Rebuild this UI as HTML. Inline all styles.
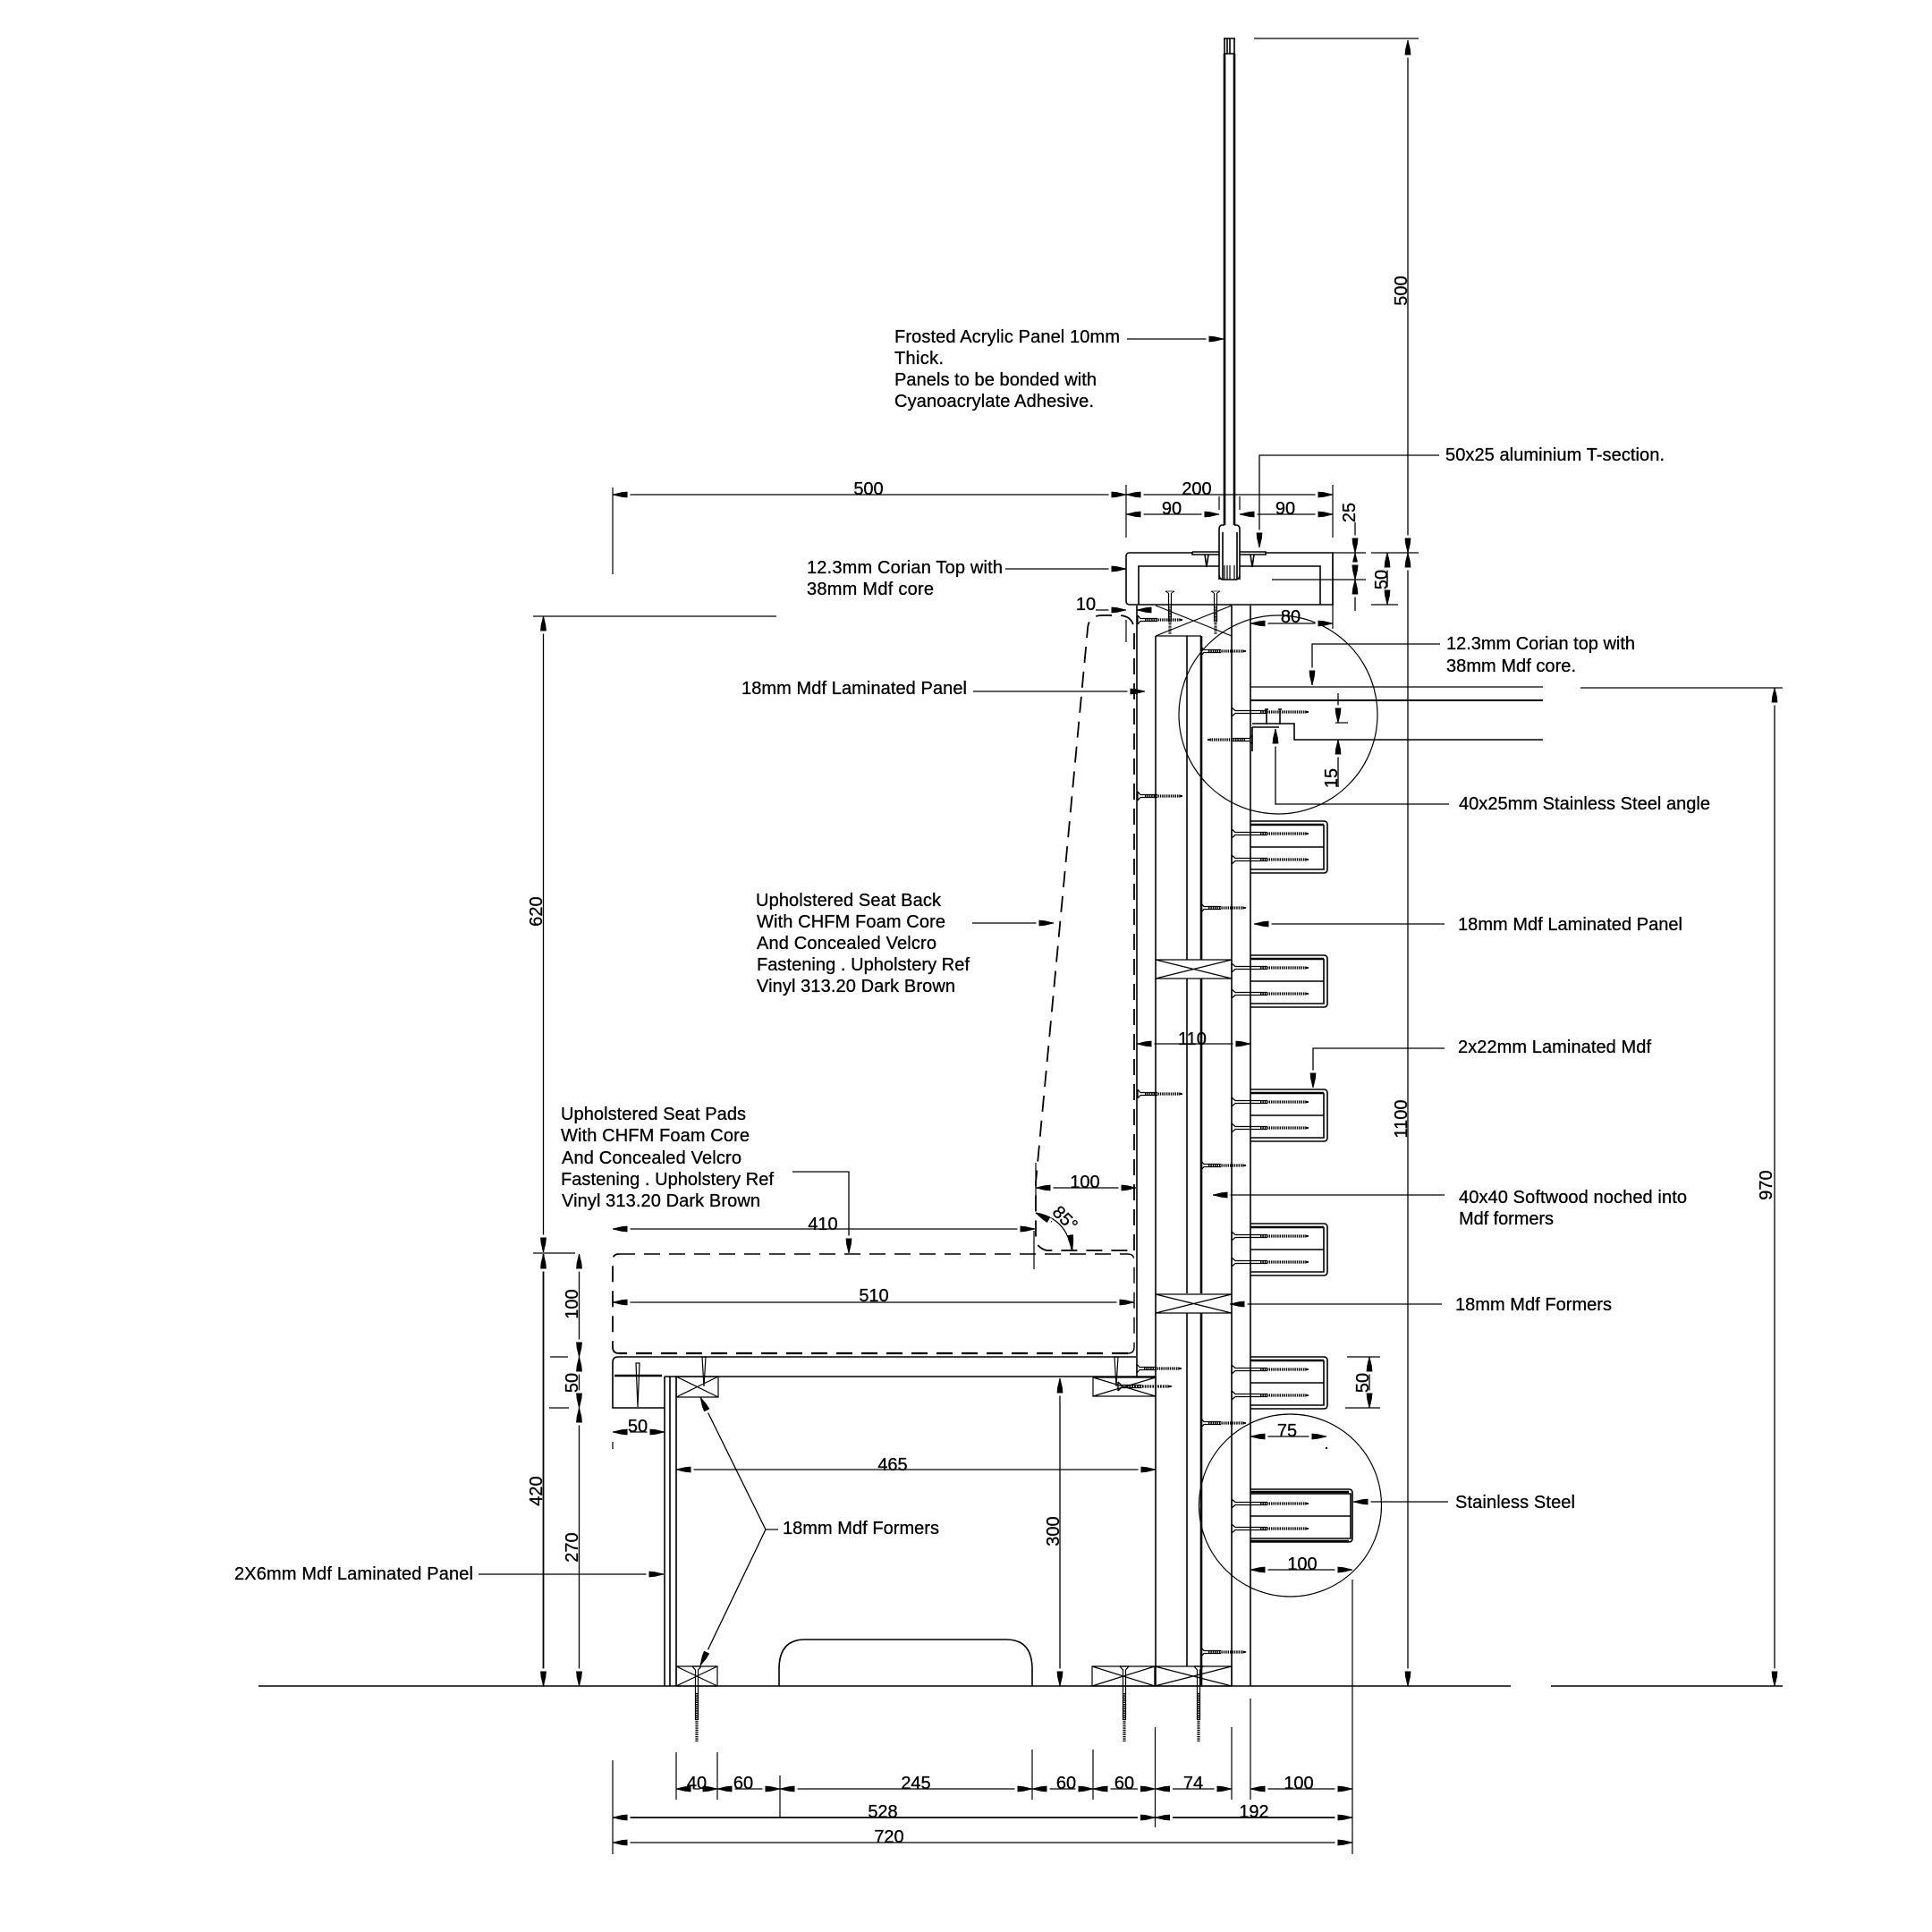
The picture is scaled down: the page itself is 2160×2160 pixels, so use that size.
<!DOCTYPE html>
<html><head><meta charset="utf-8"><style>
html,body{margin:0;padding:0;background:#fff}
svg{display:block}
text{font-family:"Liberation Sans",sans-serif;font-size:20px;fill:#000;stroke:#000;stroke-width:.3}
.m{text-anchor:middle}
.l{fill:none;stroke:#000;stroke-width:1.6}
.t{fill:none;stroke:#000;stroke-width:1.2}
.h{fill:none;stroke:#000;stroke-width:2.6}
.d{fill:none;stroke:#000;stroke-width:1.3;marker-start:url(#a);marker-end:url(#a)}
.e{fill:none;stroke:#000;stroke-width:1.3;marker-end:url(#a)}
.o{fill:none;stroke:#000;stroke-width:1.8;stroke-dasharray:18 10}
</style></head><body>
<svg width="2160" height="2160" viewBox="0 0 2160 2160" xmlns="http://www.w3.org/2000/svg">
<defs>
<marker id="a" markerUnits="userSpaceOnUse" markerWidth="24" markerHeight="10" refX="22" refY="5" orient="auto-start-reverse"><rect x="2.5" y="2" width="3" height="6" fill="#fff"/><path d="M5.5 1.6L12 2.2L22 4.6V5.4L12 7.8L5.5 8.4Z" fill="#000"/></marker>
<g id="sw"><path class="t" d="M0 -5V5M0 -5L4 -1.5H40M0 5L4 1.5H40"/><path d="M32 0H82" stroke="#000" stroke-width="3.2" stroke-dasharray="1.4 1" fill="none"/><path class="t" d="M82 -1L86 0L82 1"/></g>
<g id="ss"><path class="t" d="M0 -5V5M0 -5L3 -1.5H22M0 5L3 1.5H22"/><path d="M8 0H46" stroke="#000" stroke-width="3.2" stroke-dasharray="1.4 1" fill="none"/><path class="t" d="M46 -1L50 0L46 1"/></g>
<g id="sv"><path class="t" d="M-5 0H5M-5 0L-1.5 4V60M5 0L1.5 4V60"/><path d="M0 30V84" stroke="#000" stroke-width="3.2" stroke-dasharray="1.4 1" fill="none"/></g>
<g id="br"><path class="l" d="M1398 0H1480Q1484 0 1484 4V54Q1484 58 1480 58H1398"/><path class="h" d="M1398 4H1480"/><path class="l" d="M1398 54H1480V4M1398 29H1480"/><use href="#sw" x="1377" y="14"/><use href="#sw" x="1377" y="43"/></g>
<g id="xb"><path class="t" d="M0 0L85 21M85 0L0 21M0 0H85M0 21H85"/></g>
</defs>

<!-- acrylic + T section -->
<path class="h" d="M1369 60V587M1380 60V587"/>
<path class="l" d="M1368 43H1381M1369 43V60H1380V43M1372 43V60M1375 43V60"/>
<path class="l" d="M1363 648V592Q1363 587 1367 587H1369M1386 648V592Q1386 587 1382 587H1380M1363 642Q1363 648 1368 648H1381Q1386 648 1386 642M1367 648V595M1383 648V595"/>
<path class="t" d="M1369 632V648M1380 632V648M1372 632V648M1375 632V648"/>
<path class="l" d="M1333 617V620H1363M1333 617H1363M1386 617H1415V620H1386"/>
<path class="l" d="M1347 620L1349 634L1351 620M1398 620L1400 634L1402 620"/>

<!-- corian top -->
<path class="l" d="M1333 618H1263Q1259 618 1259 622V672Q1259 676 1263 676H1490V618H1415"/>
<path class="l" d="M1349 633H1273V676M1476 676V633H1386M1363 633H1349"/>

<!-- top block -->
<path class="t" d="M1292 677L1377 711M1377 677L1292 711M1292 711H1343"/>
<use href="#sv" transform="translate(1308,661) scale(1,.57)"/>
<use href="#sv" transform="translate(1359,661) scale(1,.57)"/>
<use href="#ss" x="1272" y="693"/>

<!-- vertical wall -->
<path class="l" d="M1271 677V1517"/>
<path class="l" d="M1292 711V1885"/>
<path class="l" d="M1327 711V1073M1327 1094V1446M1327 1468V1863"/>
<path class="h" d="M1343 711V1073M1343 1094V1446M1343 1468V1885"/>
<path class="l" d="M1377 677V1885"/>
<path class="l" d="M1398 677V1885"/>
<use href="#xb" transform="translate(1292,1073)"/>
<use href="#xb" transform="translate(1292,1447)"/>

<!-- brackets -->
<use href="#br" y="918"/>
<use href="#br" y="1068"/>
<use href="#br" y="1218"/>
<use href="#br" y="1368"/>
<use href="#br" y="1517"/>
<path class="l" d="M1398 1665H1508Q1512 1665 1512 1669V1720Q1512 1724 1508 1724H1398"/>
<path class="h" d="M1398 1668H1508M1398 1723H1508"/>
<path class="l" d="M1398 1670H1510V1720H1398M1398 1695H1510"/>
<use href="#sw" x="1377" y="1681"/>
<use href="#sw" x="1377" y="1709"/>

<!-- short screws -->
<use href="#ss" x="1343" y="728"/>
<use href="#ss" x="1343" y="1015"/>
<use href="#ss" x="1343" y="1303"/>
<use href="#ss" x="1343" y="1591"/>
<use href="#ss" x="1343" y="1847"/>
<use href="#ss" x="1272" y="890"/>
<use href="#ss" x="1272" y="1223"/>
<use href="#sw" x="1377" y="796"/>
<use href="#ss" transform="translate(1400,827) scale(-1,1)"/>

<!-- detail lines + angle -->
<circle class="t" cx="1429" cy="799" r="111"/>
<circle class="t" cx="1442.5" cy="1683" r="102"/>
<path class="t" d="M1398 768H1725"/>
<path class="l" d="M1398 783H1725" style="stroke-width:2"/>
<path class="l" d="M1400 809H1447V827H1725M1400 813H1430M1400 813V840"/>
<path class="l" d="M1416 793V810M1431 793V810M1414 793H1418M1429 793H1433"/>

<!-- seat back upholstery -->
<path class="o" d="M1268 1398V706Q1268 688 1250 688H1232Q1217 688 1216 703L1158 1322V1387Q1160 1395 1170 1398H1268"/>
<!-- seat pad -->
<path class="o" style="stroke-width:1.4" d="M692 1402H1261Q1268 1402 1268 1409V1506Q1268 1513 1261 1513"/>
<path class="o" style="stroke-width:2.2" d="M1261 1513H692"/>
<path class="o" d="M692 1513Q685 1513 685 1506V1409Q685 1402 692 1402"/>

<!-- seat base -->
<path class="l" d="M1270 1517H691Q685 1517 685 1523V1574H743"/>
<path class="l" d="M743 1539H1292"/>
<path class="h" d="M687 1538H740"/>
<path class="l" d="M1271 1517V1539"/>
<path class="l" d="M743 1539V1885M749 1539V1885M756 1539V1885"/>
<path class="t" d="M711 1524L713 1573L715 1524ZM785 1517L787 1550L789 1517ZM1246 1517L1248 1550L1250 1517Z"/>
<path class="t" d="M756 1539H803V1562H756ZM756 1539L803 1562M803 1539L756 1562"/>
<path class="t" d="M1222 1540H1292V1561H1222ZM1222 1540L1292 1561M1292 1540L1222 1561"/>
<use href="#ss" x="1271" y="1530"/>
<use href="#ss" transform="translate(1250,1550) scale(1.2,1)"/>

<!-- floor + blocks -->
<path class="l" d="M289 1885H1689M1734 1885H1993"/>
<path class="l" d="M871 1885V1866Q871 1833 900 1833H1125Q1154 1833 1154 1866V1885"/>
<path class="t" d="M756 1863H802V1885H756ZM756 1863L802 1885M802 1863L756 1885"/>
<path class="t" d="M1221 1863H1291V1885H1221ZM1221 1863L1291 1885M1291 1863L1221 1885"/>
<path class="t" d="M1291 1863H1377V1885H1291ZM1291 1863L1377 1885M1377 1863L1291 1885"/>
<use href="#sv" x="779" y="1863"/>
<use href="#sv" x="1257" y="1863"/>
<use href="#sv" x="1340" y="1863"/>

<!-- leaders -->
<path class="e" d="M1260 379H1368"/>
<path class="e" d="M1609 509H1408V612"/>
<path class="e" d="M1124 636H1259"/>
<path class="t" d="M1422 648H1527"/>
<path class="e" d="M1088 773H1280"/>
<path class="e" d="M1610 720H1467V766"/>
<path class="e" d="M1620 899H1426V815"/>
<path class="e" d="M1615 1033H1402"/>
<path class="e" d="M1615 1172H1468V1216"/>
<path class="e" d="M1615 1336H1356"/>
<path class="e" d="M1612 1458H1375"/>
<path class="e" d="M1619 1679H1513"/>
<path class="e" d="M1087 1032H1178"/>
<path class="e" d="M886 1310H949V1401"/>
<path class="e" d="M856 1710L783 1562"/>
<path class="e" d="M856 1710L783 1862"/>
<path class="t" d="M856 1710H870"/>
<path class="e" d="M535 1760H742"/>

<!-- extension lines -->
<path class="t" d="M1402 43H1586"/>
<path class="t" d="M685 545V642M1259 542V601M1490 542V601M1490 618V703M1490 618H1527M1533 618H1586"/>
<path class="t" d="M1533 676H1563M1363 555V570M1386 555V570"/>
<path class="t" d="M1259 693V718M1158 1300V1340M1156 1376V1419"/>
<path class="t" d="M596 689H868M596 1401H643M615 1517H635M614 1574H636M685 1612V1620"/>
<path class="t" d="M1506 1517H1543M1504 1574H1543M1512 1766V2073"/>
<path class="t" d="M1767 769H1993"/>
<path class="t" d="M756 1959V2012M802 1959V2012M1154 1956V2012M1222 1956V2012M872 1985V2032M1291.5 1931V2043M1377 1931V2012M1398 1899V2012M685 1968V2073"/>

<!-- dims -->
<path class="d" d="M685 553H1259"/>
<path class="d" d="M1259 553H1490"/>
<path class="d" d="M1259 575H1363"/>
<path class="d" d="M1386 575H1490"/>
<path class="d" d="M1398 697H1490"/>
<path class="d" d="M1574 45V618"/>
<path class="d" d="M1574 618V1885"/>
<path class="e" d="M1515 584V618"/>
<path class="d" d="M1515 618V648"/>
<path class="e" d="M1515 683V648"/>
<path class="e" d="M1551 650V618"/>
<path class="e" d="M1551 644V676"/>
<path class="e" d="M1225 682H1259"/>
<path class="e" d="M1290 682H1271"/>
<path class="e" d="M1496 775V808"/>
<path class="e" d="M1496 880V827"/>
<path class="t" d="M1493 808H1507"/>
<path class="d" d="M1271 1167H1398"/>
<path class="d" d="M1158 1328H1270"/>
<path class="d" d="M685 1374H1157"/>
<path class="d" d="M685 1456H1268"/>
<path class="d" d="M756 1643H1292"/>
<path class="d" d="M685 1601H743"/>
<path class="d" d="M1185 1541V1885"/>
<path class="t" d="M1158 1356Q1192 1362 1198 1397"/>
<path class="e" d="M1176 1366L1158 1356"/>
<path class="e" d="M1196 1378L1199 1397"/>
<path class="d" d="M1398 1606H1483"/>
<path class="d" d="M1398 1755H1512"/>
<path class="d" d="M1531 1517V1574"/>
<path class="d" d="M1984 769V1885"/>
<path class="d" d="M607.5 689V1400"/>
<path class="d" style="stroke-width:1.8" d="M607.5 1402V1885"/>
<path class="d" d="M647.5 1402V1517"/>
<path class="d" d="M647.5 1517V1574"/>
<path class="d" d="M647.5 1574V1885"/>
<path class="d" d="M756 2000H802"/>
<path class="d" d="M802 2000H872"/>
<path class="d" d="M872 2000H1154"/>
<path class="d" d="M1154 2000H1222"/>
<path class="d" d="M1222 2000H1291.5"/>
<path class="d" d="M1291.5 2000H1377"/>
<path class="d" d="M1398 2000H1512"/>
<path class="d" style="stroke-width:1.7" d="M685 2032H1291.5"/>
<path class="d" style="stroke-width:1.7" d="M1291.5 2032H1512"/>
<path class="d" d="M685 2060H1512"/>
<rect x="1482" y="1618" width="2" height="2" fill="#000"/>

<!-- dim text -->
<text class="m" x="971" y="553">500</text>
<text class="m" x="1338" y="553">200</text>
<text class="m" x="1310" y="575">90</text>
<text class="m" x="1437" y="575">90</text>
<text class="m" x="1443" y="696">80</text>
<text class="m" x="1214" y="682">10</text>
<text class="m" x="1333" y="1168">110</text>
<text class="m" x="1213" y="1328">100</text>
<text class="m" x="920" y="1375">410</text>
<text class="m" x="977" y="1455">510</text>
<text class="m" x="998" y="1644">465</text>
<text class="m" x="713" y="1601">50</text>
<text class="m" x="1439" y="1606">75</text>
<text class="m" x="1456" y="1755">100</text>
<text class="m" x="779" y="2000">40</text>
<text class="m" x="831" y="2000">60</text>
<text class="m" x="1024" y="2000">245</text>
<text class="m" x="1192" y="2000">60</text>
<text class="m" x="1257" y="2000">60</text>
<text class="m" x="1334" y="2000">74</text>
<text class="m" x="1452" y="2000">100</text>
<text class="m" x="987" y="2032">528</text>
<text class="m" x="1402" y="2032">192</text>
<text class="m" x="994" y="2060">720</text>
<text class="m" transform="translate(1191,1362) rotate(45)" y="7">85°</text>
<text class="m" transform="translate(1566,325) rotate(-90)" y="7">500</text>
<text class="m" transform="translate(1566,1251) rotate(-90)" y="7">1100</text>
<text class="m" transform="translate(1508,573) rotate(-90)" y="7">25</text>
<text class="m" transform="translate(1544,648) rotate(-90)" y="7">50</text>
<text class="m" transform="translate(1488,870) rotate(-90)" y="7">15</text>
<text class="m" transform="translate(1974,1325) rotate(-90)" y="7">970</text>
<text class="m" transform="translate(599,1019) rotate(-90)" y="7">620</text>
<text class="m" transform="translate(599,1667) rotate(-90)" y="7">420</text>
<text class="m" transform="translate(639,1458) rotate(-90)" y="7">100</text>
<text class="m" transform="translate(639,1546) rotate(-90)" y="7">50</text>
<text class="m" transform="translate(639,1730) rotate(-90)" y="7">270</text>
<text class="m" transform="translate(1177,1712) rotate(-90)" y="7">300</text>
<text class="m" transform="translate(1523,1546) rotate(-90)" y="7">50</text>

<!-- labels -->
<text x="1000" y="383" textLength="252">Frosted Acrylic Panel 10mm</text>
<text x="1000" y="407" textLength="55">Thick.</text>
<text x="1000" y="431" textLength="226">Panels to be bonded with</text>
<text x="1000" y="455" textLength="223">Cyanoacrylate Adhesive.</text>
<text x="1616" y="515" textLength="245">50x25 aluminium T-section.</text>
<text x="902" y="641" textLength="219">12.3mm Corian Top with</text>
<text x="902" y="665" textLength="142">38mm Mdf core</text>
<text x="829" y="776" textLength="252">18mm Mdf Laminated Panel</text>
<text x="1617" y="726" textLength="211">12.3mm Corian top with</text>
<text x="1617" y="751" textLength="145">38mm Mdf core.</text>
<text x="1631" y="905" textLength="281">40x25mm Stainless Steel angle</text>
<text x="1630" y="1040" textLength="251">18mm Mdf Laminated Panel</text>
<text x="1630" y="1177" textLength="216">2x22mm Laminated Mdf</text>
<text x="1631" y="1345" textLength="255">40x40 Softwood noched into</text>
<text x="1631" y="1369" textLength="106">Mdf formers</text>
<text x="1627" y="1465" textLength="175">18mm Mdf Formers</text>
<text x="1627" y="1686" textLength="134">Stainless Steel</text>
<text x="875" y="1715" textLength="175">18mm Mdf Formers</text>
<text x="845" y="1013" textLength="207">Upholstered Seat Back</text>
<text x="846" y="1037" textLength="211">With CHFM Foam Core</text>
<text x="846" y="1061" textLength="201">And Concealed Velcro</text>
<text x="846" y="1085" textLength="238">Fastening . Upholstery Ref</text>
<text x="846" y="1109" textLength="222">Vinyl 313.20 Dark Brown</text>
<text x="627" y="1252" textLength="207">Upholstered Seat Pads</text>
<text x="627" y="1276" textLength="211">With CHFM Foam Core</text>
<text x="628" y="1301" textLength="201">And Concealed Velcro</text>
<text x="627" y="1325" textLength="238">Fastening . Upholstery Ref</text>
<text x="628" y="1349" textLength="222">Vinyl 313.20 Dark Brown</text>
<text x="262" y="1766" textLength="267">2X6mm Mdf Laminated Panel</text>
</svg>
</body></html>
